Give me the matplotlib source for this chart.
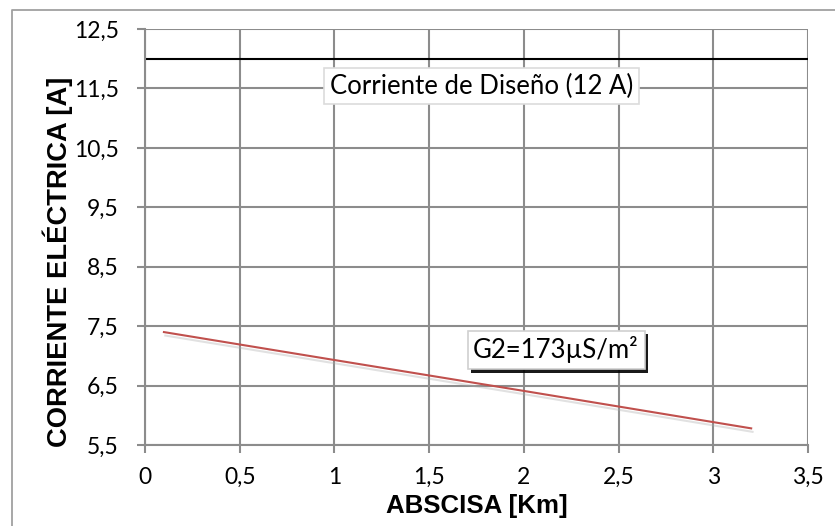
import matplotlib.pyplot as plt
import matplotlib.patheffects as pe
from matplotlib.lines import Line2D
from matplotlib.ticker import FuncFormatter

# datos
abscisa = [0.1, 1.0, 2.0, 3.2]  # Km
corriente_g2 = [7.40, 6.93, 6.41, 5.78]  # A
corriente_diseno = 12  # A
x_ticks = [0, 0.5, 1, 1.5, 2, 2.5, 3, 3.5]
y_ticks = [5.5, 6.5, 7.5, 8.5, 9.5, 10.5, 11.5, 12.5]

W, H = 835, 526
grid_col = '#8c8c8c'
txt_font = 'Lato'

fig = plt.figure(figsize=(W/100, H/100), dpi=100)
ax = fig.add_axes([145/W, 1 - 445/H, (808-145)/W, (445-29)/H])

# borde exterior (solo se ven izquierda y arriba)
fig.lines.append(Line2D([11.5/W, 11.5/W, 1.0], [0.0, 1 - 9.5/H, 1 - 9.5/H], transform=fig.transFigure,
                        color='#a0a0a0', linewidth=1.3))

ax.set_xlim(0, 3.5)
ax.set_ylim(5.5, 12.5)
ax.set_xticks(x_ticks)
ax.set_yticks(y_ticks)
fmt = FuncFormatter(lambda v, p: ('%g' % v).replace('.', ','))
ax.xaxis.set_major_formatter(fmt)
ax.yaxis.set_major_formatter(fmt)
ax.grid(True, color=grid_col, linewidth=1.5)
ax.set_axisbelow(True)
for s in ax.spines.values():
    s.set_color(grid_col)
    s.set_linewidth(1.5)
ax.spines['top'].set_visible(False)
ax.spines['right'].set_visible(False)
ax.tick_params(direction='out', length=6, width=1.5, color=grid_col, labelsize=16.5)
ax.tick_params(axis='x', pad=10)
ax.tick_params(axis='y', pad=13)
for lab in ax.get_xticklabels() + ax.get_yticklabels():
    lab.set_fontfamily(txt_font)

ax.axhline(corriente_diseno, color='black', linewidth=1.5)
ax.plot(abscisa, corriente_g2, color='#c0504d', linewidth=1.5,
        path_effects=[pe.SimpleLineShadow(offset=(1, -2.5), shadow_color='#aaaaaa', alpha=0.35),
                      pe.Normal()])

ax.text(1.777, 11.54, 'Corriente de Diseño (12 A)', ha='center', va='center', fontsize=18.5,
        family=txt_font,
        bbox=dict(boxstyle='square,pad=0.22', facecolor='white', edgecolor='#dcdcdc', linewidth=1.2))
ax.text(2.17, 7.10, 'G2=173µS/m²', ha='center', va='center', fontsize=18.5,
        family=txt_font,
        bbox=dict(boxstyle='square,pad=0.22', facecolor='white', edgecolor='#d0d0d0', linewidth=1.2,
                  path_effects=[pe.SimplePatchShadow(offset=(2.5, -2.5), shadow_rgbFace='black', alpha=0.9),
                                pe.Normal()]))

ax.set_xlabel('ABSCISA [Km]', fontsize=18.6, fontweight='bold', family='Liberation Sans')
ax.xaxis.label.set_va('baseline')
ax.xaxis.set_label_coords(0.5, (445-513)/416)
ax.set_ylabel('CORRIENTE ELÉCTRICA [A]', fontsize=19.7, fontweight='bold', family='Liberation Sans')
ax.yaxis.label.set_va('baseline')
ax.yaxis.set_label_coords((67-145)/663, (445-261.5)/416)

fig.savefig('out.png', dpi=100)
